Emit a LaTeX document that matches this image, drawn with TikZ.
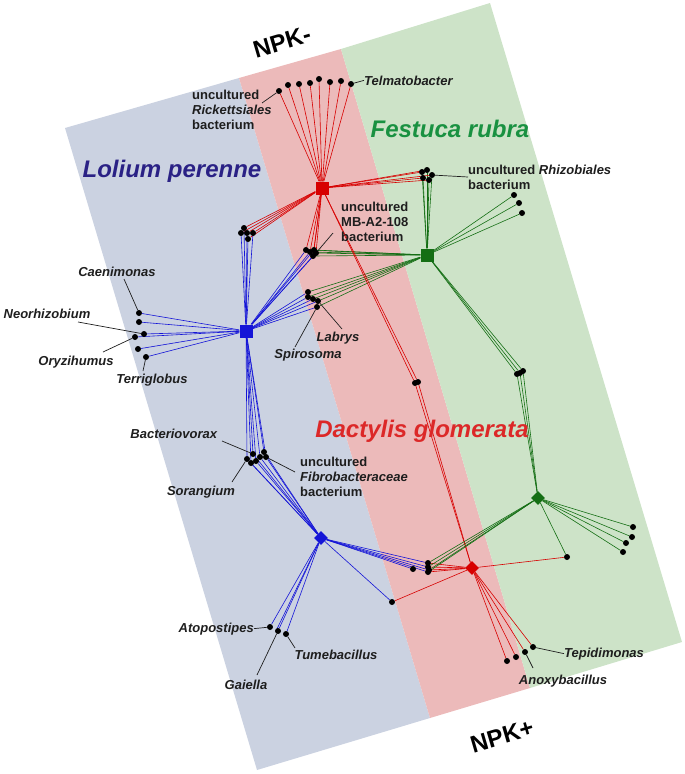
\documentclass[tikz,border=0pt]{standalone}
\usepackage{fontspec}
\setmainfont{Liberation Sans}
\usetikzlibrary{shapes.geometric}
\usetikzlibrary{backgrounds}

\definecolor{bandblue}{RGB}{203,210,225}
\definecolor{bandred}{RGB}{236,186,186}
\definecolor{bandgreen}{RGB}{205,227,200}
\definecolor{lnblue}{RGB}{20,20,215}
\definecolor{lnred}{RGB}{215,0,0}
\definecolor{lngreen}{RGB}{20,110,20}
\definecolor{txtgray}{RGB}{30,30,30}
\definecolor{ttlblue}{RGB}{42,33,133}
\definecolor{ttlgreen}{RGB}{25,145,65}
\definecolor{ttlred}{RGB}{220,40,40}

\tikzset{
  dot/.style={circle,fill=black,inner sep=0pt,minimum size=6pt},
  hubsq/.style={rectangle,fill=#1,inner sep=0pt,minimum size=13pt},
  hubdi/.style={diamond,fill=#1,inner sep=0pt,minimum size=14pt},
  blueln/.style={lnblue,line width=0.6pt},
  redln/.style={lnred,line width=0.6pt},
  grnln/.style={lngreen,line width=0.6pt},
  taxon/.style={font=\fontsize{13}{15}\selectfont\bfseries,text=txtgray,inner sep=0pt},
  leader/.style={txtgray,line width=0.7pt},
  plant/.style={font=\fontsize{24}{24}\selectfont\bfseries\itshape,inner sep=0pt,anchor=base},
  npk/.style={font=\fontsize{24}{24}\selectfont\bfseries,rotate=16.4,inner sep=0pt}
}

\begin{document}
\begin{tikzpicture}[x=1pt,y=-1pt]
  \useasboundingbox (0,0) rectangle (685,774);

  % hubs
  \node[hubsq=lnred]   (R)  at (322,188) {};
  \node[hubsq=lngreen] (G)  at (427,255) {};
  \node[hubsq=lnblue]  (B)  at (246,331) {};
  \node[hubdi=lnblue]  (BD) at (321,538) {};
  \node[hubdi=lngreen] (GD) at (538,498) {};
  \node[hubdi=lnred]   (RD) at (472,568) {};

  % taxa
  \foreach \i/\x/\y in {1/279/91,2/288/85,3/299/84,4/310/83,5/319/79,6/330/82,7/341/81,8/351/84}
    \node[dot] (t\i) at (\x,\y) {};
  \foreach \i/\x/\y in {1/422/172,2/427/170,3/432/175,4/423/178,5/429/180}
    \node[dot] (z\i) at (\x,\y) {};
  \foreach \i/\x/\y in {1/244/228,2/241/233,3/247/233,4/253/233,5/248/239}
    \node[dot] (l\i) at (\x,\y) {};
  \foreach \i/\x/\y in {1/306/250,2/310/252,3/314/250,4/316/253,5/313/256}
    \node[dot] (m\i) at (\x,\y) {};
  \foreach \i/\x/\y in {1/415/383,2/418/382}
    \node[dot] (d\i) at (\x,\y) {};
  \foreach \i/\x/\y in {1/514/195,2/519/203,3/522/213}
    \node[dot] (g\i) at (\x,\y) {};
  \foreach \i/\x/\y in {1/517/374,2/520/373,3/523/371}
    \node[dot] (h\i) at (\x,\y) {};
  \foreach \i/\x/\y in {1/633/527,2/632/537,3/626/543,4/623/552}
    \node[dot] (k\i) at (\x,\y) {};
  \foreach \i/\x/\y in {1/139/313,2/139/322,3/144/334,4/135/337,5/138/349,6/146/357}
    \node[dot] (b\i) at (\x,\y) {};
  \foreach \i/\x/\y in {1/308/292,2/308/297,3/313/299,4/318/301,5/317/307}
    \node[dot] (s\i) at (\x,\y) {};
  \foreach \i/\x/\y in {1/247/459,2/253/454,3/251/463,4/256/461,5/260/457,6/264/452,7/266/457}
    \node[dot] (v\i) at (\x,\y) {};
  \foreach \i/\x/\y in {1/270/627,2/278/631,3/286/634}
    \node[dot] (a\i) at (\x,\y) {};
  \foreach \i/\x/\y in {0/413/569,1/428/563,2/428/567,3/429/570,4/428/572}
    \node[dot] (c\i) at (\x,\y) {};
  \foreach \i/\x/\y in {1/507/661,2/516/657,3/525/652,4/533/647}
    \node[dot] (p\i) at (\x,\y) {};
  \node[dot] (e1) at (567,557) {};
  \node[dot] (o1) at (392,602) {};

  % labels
  \node[npk] (npkm) at (282,42) {NPK-};
  \node[npk] (npkp) at (502,736) {NPK+};
  \node[plant,text=ttlblue]  (lolium)   at (172,177) {Lolium perenne};
  \node[plant,text=ttlgreen] (festuca)  at (450,137) {Festuca rubra};
  \node[plant,text=ttlred]   (dactylis) at (422,437) {Dactylis glomerata};

  \node[taxon,anchor=west,align=left] (rick) at (192,110) {uncultured\\\textit{Rickettsiales}\\bacterium};
  \node[taxon,anchor=base west] (telma) at (364,85) {\textit{Telmatobacter}};
  \node[taxon,anchor=west,align=left] (rhiz) at (468,177) {uncultured \textit{Rhizobiales}\\bacterium};
  \node[taxon,anchor=west,align=left] (mbA) at (341,222) {uncultured\\MB-A2-108\\bacterium};
  \node[taxon,anchor=base] (caen) at (117,276) {\textit{Caenimonas}};
  \node[taxon,anchor=base] (neor) at (47,318) {\textit{Neorhizobium}};
  \node[taxon,anchor=base] (oryz) at (76,365) {\textit{Oryzihumus}};
  \node[taxon,anchor=base] (terr) at (152,383) {\textit{Terriglobus}};
  \node[taxon,anchor=base] (labr) at (338,341) {\textit{Labrys}};
  \node[taxon,anchor=base] (spir) at (308,358) {\textit{Spirosoma}};
  \node[taxon,anchor=base] (bact) at (174,438) {\textit{Bacteriovorax}};
  \node[taxon,anchor=base] (sora) at (201,495) {\textit{Sorangium}};
  \node[taxon,anchor=west,align=left] (fibr) at (300,477) {uncultured\\\textit{Fibrobacteraceae}\\bacterium};
  \node[taxon,anchor=base east] (atop) at (254,632) {\textit{Atopostipes}};
  \node[taxon,anchor=base] (gaie) at (246,689) {\textit{Gaiella}};
  \node[taxon,anchor=base] (tume) at (336,659) {\textit{Tumebacillus}};
  \node[taxon,anchor=base west] (tepi) at (564,657) {\textit{Tepidimonas}};
  \node[taxon,anchor=base] (anox) at (563,684) {\textit{Anoxybacillus}};

  % leader ends
  \coordinate (rickE) at (262,103);
  \coordinate (mbE) at (333,233);
  \coordinate (caenE) at (124,279);
  \coordinate (neorE) at (78,322);
  \coordinate (oryzE) at (103,352);
  \coordinate (terrE) at (143,371);
  \coordinate (labrE) at (342,329);
  \coordinate (spirE) at (295,347);
  \coordinate (bactE) at (222,441);
  \coordinate (soraE) at (232,482);
  \coordinate (fibrE) at (295,472);
  \coordinate (gaieE) at (257,675);
  \coordinate (tumeE) at (295,648);
  \coordinate (anoxE) at (533,668);

  \begin{scope}[on background layer]
    % bands
    \fill[bandblue]  (65,128) -- (239,78) -- (430,718) -- (257,770) -- cycle;
    \fill[bandred]   (239,78) -- (341,49) -- (530,688) -- (430,718) -- cycle;
    \fill[bandgreen] (341,49) -- (490,3) -- (682,642) -- (530,688) -- cycle;

    % network
    \foreach \i in {1,...,8} \draw[redln] (R) -- (t\i);
    \foreach \i in {1,...,5} {
      \draw[redln] (R) -- (z\i);
      \draw[redln] (R) -- (l\i);
      \draw[redln] (R) -- (m\i);
      \draw[grnln] (G) -- (z\i);
      \draw[grnln] (G) -- (m\i);
      \draw[grnln] (G) -- (s\i);
      \draw[blueln] (B) -- (l\i);
      \draw[blueln] (B) -- (m\i);
      \draw[blueln] (B) -- (s\i);
    }
    \foreach \i in {1,2} {
      \draw[redln] (R) -- (d\i);
      \draw[redln] (d\i) -- (RD);
    }
    \foreach \i in {1,2,3} {
      \draw[grnln] (G) -- (g\i);
      \draw[grnln] (G) -- (h\i);
      \draw[grnln] (h\i) -- (GD);
      \draw[blueln] (BD) -- (a\i);
    }
    \draw[blueln] (BD) -- ([xshift=-2pt]a2.center);
    \foreach \i in {1,...,4} {
      \draw[grnln] (GD) -- (k\i);
      \draw[grnln] (GD) -- (c\i);
      \draw[redln] (RD) -- (c\i);
      \draw[redln] (RD) -- (p\i);
    }
    \foreach \i in {0,...,4} \draw[blueln] (BD) -- (c\i);
    \foreach \i in {1,...,6} \draw[blueln] (B) -- (b\i);
    \foreach \i in {1,...,7} {
      \draw[blueln] (B) -- (v\i);
      \draw[blueln] (v\i) -- (BD);
    }
    \draw[grnln] (GD) -- (e1);
    \draw[redln] (e1) -- (RD);
    \draw[blueln] (BD) -- (o1);
    \draw[redln] (o1) -- (RD);

    % leaders
    \draw[leader] (t1) -- (rickE);
    \draw[leader] (t8) -- (telma.west);
    \draw[leader] (z3) -- (rhiz.west);
    \draw[leader] (m4) -- (mbE);
    \draw[leader] (b1) -- (caenE);
    \draw[leader] (b3) -- (neorE);
    \draw[leader] (b4) -- (oryzE);
    \draw[leader] (b6) -- (terrE);
    \draw[leader] (s4) -- (labrE);
    \draw[leader] (s5) -- (spirE);
    \draw[leader] (v2) -- (bactE);
    \draw[leader] (v1) -- (soraE);
    \draw[leader] (v7) -- (fibrE);
    \draw[leader] (a1) -- (atop.east);
    \draw[leader] (a2) -- (gaieE);
    \draw[leader] (a3) -- (tumeE);
    \draw[leader] (p4) -- (tepi.west);
    \draw[leader] (p3) -- (anoxE);
  \end{scope}
\end{tikzpicture}
\end{document}
